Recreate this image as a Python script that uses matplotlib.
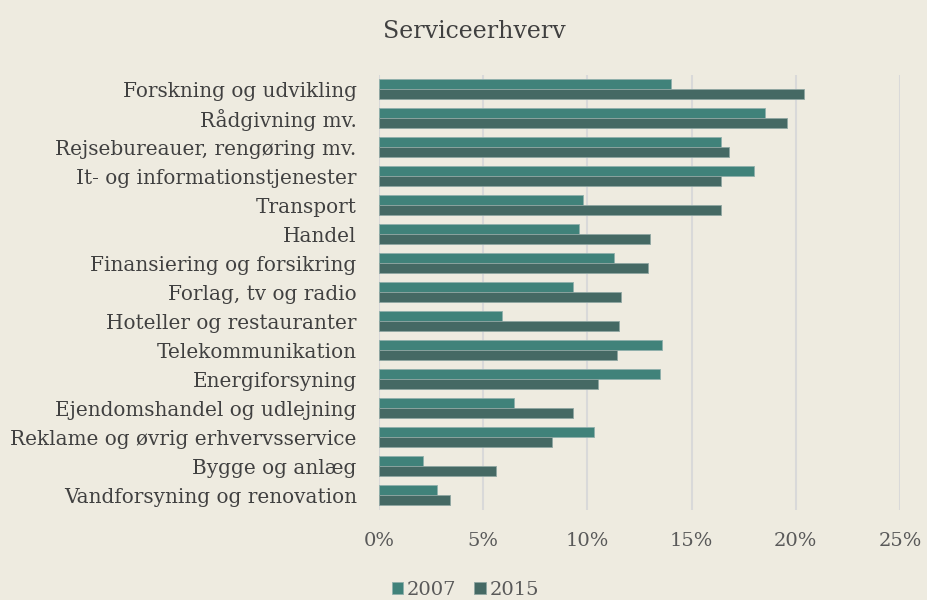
import matplotlib
matplotlib.use("Agg")
import matplotlib.pyplot as plt
import numpy as np

categories = [
    "Forskning og udvikling",
    "Rådgivning mv.",
    "Rejsebureauer, rengøring mv.",
    "It- og informationstjenester",
    "Transport",
    "Handel",
    "Finansiering og forsikring",
    "Forlag, tv og radio",
    "Hoteller og restauranter",
    "Telekommunikation",
    "Energiforsyning",
    "Ejendomshandel og udlejning",
    "Reklame og øvrig erhvervsservice",
    "Bygge og anlæg",
    "Vandforsyning og renovation",
]
values_2007 = [14.0, 18.5, 16.4, 18.0, 9.8, 9.6, 11.3, 9.3, 5.9, 13.6, 13.5, 6.5, 10.3, 2.1, 2.8]
values_2015 = [20.4, 19.6, 16.8, 16.4, 16.4, 13.0, 12.9, 11.6, 11.5, 11.4, 10.5, 9.3, 8.3, 5.6, 3.4]
xticks = [0, 5, 10, 15, 20, 25]
xtick_labels = ["0%", "5%", "10%", "15%", "20%", "25%"]
series_names = ["2007", "2015"]

bg = "#EEEBE0"
c2007 = "#40827A"
c2015 = "#456964"

plt.rcParams['font.family'] = ['DejaVu Serif', 'Liberation Serif']

fig = plt.figure(figsize=(9.27, 6.0), dpi=100, facecolor=bg)
ax = fig.add_axes([0.4088, 0.1508, 0.9709 - 0.4088, 0.8758 - 0.1508], facecolor=bg)

y = np.arange(len(categories))
h = 0.345
ax.barh(y - h / 2, values_2007, height=h, color=c2007, edgecolor="#8FB0AB", linewidth=0.6, label=series_names[0], zorder=3)
ax.barh(y + h / 2, values_2015, height=h, color=c2015, edgecolor="#8FA6A2", linewidth=0.6, label=series_names[1], zorder=3)

ax.set_xlim(0, 25)
ax.set_ylim(len(categories) - 0.5, -0.5)
ax.set_xticks(xticks)
ax.set_xticklabels(xtick_labels, fontsize=14, color="#595959")
ax.set_yticks(y)
ax.set_yticklabels(categories, fontsize=14.4, color="#404040")
ax.tick_params(axis="both", length=0)
ax.tick_params(axis="x", pad=16)
ax.tick_params(axis="y", pad=16)
ax.xaxis.grid(True, color="#D9D9D9", linewidth=1.5, zorder=0)
for s in ax.spines.values():
    s.set_visible(False)

fig.text(0.512, 0.948, "Serviceerhverv", ha="center", va="center", fontsize=17, color="#404040")

leg = fig.legend(loc="center", bbox_to_anchor=(0.502, 0.017), ncol=2, frameon=False,
                 fontsize=14, handlelength=0.6, handleheight=0.6, handletextpad=0.2,
                 columnspacing=0.9, labelcolor="#595959")

fig.savefig("out.png", dpi=100, facecolor=bg)
